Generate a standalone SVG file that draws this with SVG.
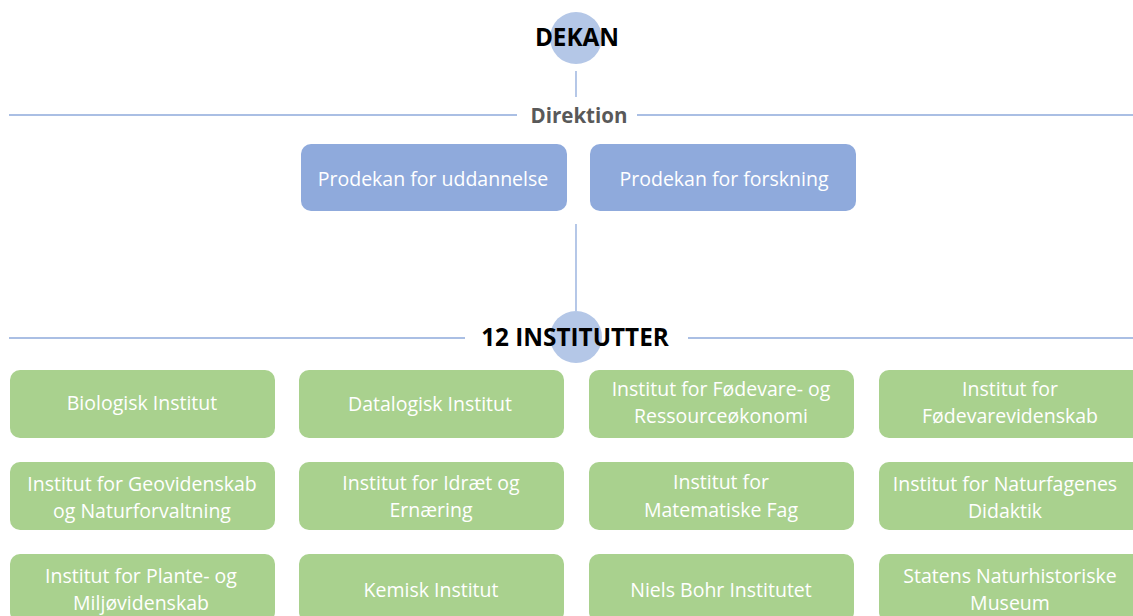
<svg xmlns="http://www.w3.org/2000/svg" width="1133" height="616" viewBox="0 0 1133 616">
<style>
.conn{stroke:#8EAADB;stroke-width:1.3;fill:none}
.hub{fill:#B4C7E7}
.title{font-family:"Open Sans","Liberation Sans",sans-serif;font-weight:bold;font-size:24.3px;fill:#000;text-anchor:middle}
.sec{font-family:"Open Sans","Liberation Sans",sans-serif;font-weight:bold;font-size:20.5px;fill:#595959;text-anchor:middle}
.blue{fill:#8FAADC}
.green{fill:#A9D18E}
.lbl{font-family:"Open Sans","Liberation Sans",sans-serif;font-size:19.5px;fill:#fff;text-anchor:middle}
</style>
<rect width="1133" height="616" fill="#fff"/>
<g id="connectors">
<line class="conn" x1="576" y1="71" x2="576" y2="97"/>
<line class="conn" x1="9" y1="115" x2="517" y2="115"/>
<line class="conn" x1="637" y1="115" x2="1133" y2="115"/>
<line class="conn" x1="576" y1="224" x2="576" y2="311"/>
<line class="conn" x1="9" y1="338" x2="465" y2="338"/>
<line class="conn" x1="688" y1="338" x2="1133" y2="338"/>
</g>
<g id="dekan">
<circle class="hub" cx="576" cy="38" r="26"/>
<text class="title" x="577" y="46">DEKAN</text>
</g>
<g id="direktion">
<text class="sec" x="579" y="123">Direktion</text>
</g>
<g id="prodekan-uddannelse">
<rect class="blue" x="301" y="144" width="266" height="67" rx="10"/>
<text class="lbl" x="433" y="186">Prodekan for uddannelse</text>
</g>
<g id="prodekan-forskning">
<rect class="blue" x="590" y="144" width="266" height="67" rx="10"/>
<text class="lbl" x="724" y="186">Prodekan for forskning</text>
</g>
<g id="institutter">
<circle class="hub" cx="576" cy="337" r="26"/>
<text class="title" x="575" y="346">12 INSTITUTTER</text>
</g>
<g id="biologisk">
<rect class="green" x="10" y="370" width="265" height="68" rx="10"/>
<text class="lbl" x="142" y="410">Biologisk Institut</text>
</g>
<g id="datalogisk">
<rect class="green" x="299" y="370" width="265" height="68" rx="10"/>
<text class="lbl" x="430" y="411">Datalogisk Institut</text>
</g>
<g id="foedevare-oekonomi">
<rect class="green" x="589" y="370" width="265" height="68" rx="10"/>
<text class="lbl" x="721" y="396">Institut for Fødevare- og</text>
<text class="lbl" x="721" y="423">Ressourceøkonomi</text>
</g>
<g id="foedevarevidenskab">
<rect class="green" x="879" y="370" width="265" height="68" rx="10"/>
<text class="lbl" x="1010" y="396">Institut for</text>
<text class="lbl" x="1010" y="423">Fødevarevidenskab</text>
</g>
<g id="geovidenskab">
<rect class="green" x="10" y="462" width="265" height="68" rx="10"/>
<text class="lbl" x="142" y="491">Institut for Geovidenskab</text>
<text class="lbl" x="142" y="518">og Naturforvaltning</text>
</g>
<g id="idraet">
<rect class="green" x="299" y="462" width="265" height="68" rx="10"/>
<text class="lbl" x="431" y="490">Institut for Idræt og</text>
<text class="lbl" x="431" y="517">Ernæring</text>
</g>
<g id="matematiske">
<rect class="green" x="589" y="462" width="265" height="68" rx="10"/>
<text class="lbl" x="721" y="489">Institut for</text>
<text class="lbl" x="721" y="517">Matematiske Fag</text>
</g>
<g id="naturfagenes">
<rect class="green" x="879" y="462" width="265" height="68" rx="10"/>
<text class="lbl" x="1005" y="491">Institut for Naturfagenes</text>
<text class="lbl" x="1005" y="518">Didaktik</text>
</g>
<g id="plante">
<rect class="green" x="10" y="554" width="265" height="68" rx="10"/>
<text class="lbl" x="141" y="583">Institut for Plante- og</text>
<text class="lbl" x="141" y="610">Miljøvidenskab</text>
</g>
<g id="kemisk">
<rect class="green" x="299" y="554" width="265" height="68" rx="10"/>
<text class="lbl" x="431" y="597">Kemisk Institut</text>
</g>
<g id="niels-bohr">
<rect class="green" x="589" y="554" width="265" height="68" rx="10"/>
<text class="lbl" x="721" y="597">Niels Bohr Institutet</text>
</g>
<g id="snm">
<rect class="green" x="879" y="554" width="265" height="68" rx="10"/>
<text class="lbl" x="1010" y="583">Statens Naturhistoriske</text>
<text class="lbl" x="1010" y="610">Museum</text>
</g>
</svg>
